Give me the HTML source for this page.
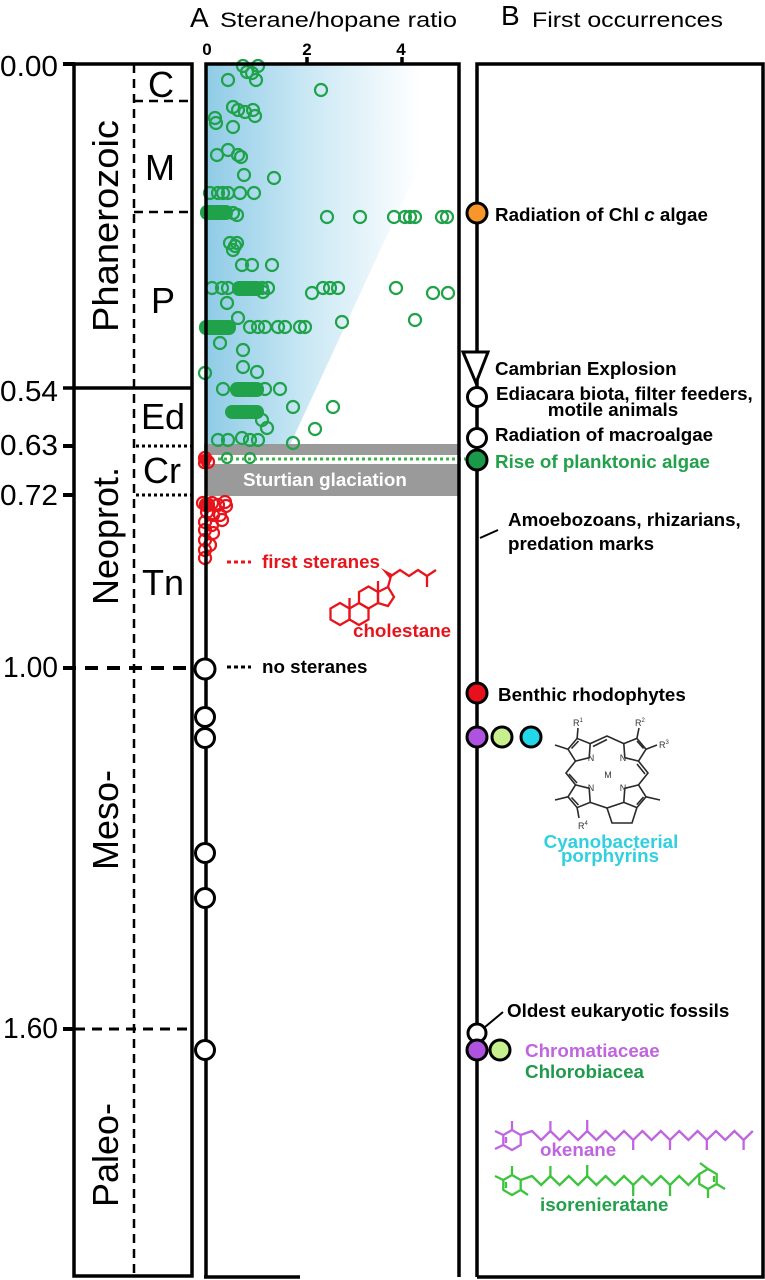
<!DOCTYPE html>
<html><head><meta charset="utf-8"><title>Sterane/hopane ratio and first occurrences</title>
<style>
html,body{margin:0;padding:0;background:#fff;}
svg{display:block;}
text{font-family:"Liberation Sans",Arial,sans-serif;}
.b{font-weight:bold;font-size:18.8px;}
</style></head>
<body>
<svg width="765" height="1280" viewBox="0 0 765 1280" xmlns="http://www.w3.org/2000/svg">
<defs>
<linearGradient id="bg" gradientUnits="userSpaceOnUse" x1="206" y1="0" x2="420" y2="0">
<stop offset="0" stop-color="#8fcbe6"/>
<stop offset="0.45" stop-color="#c8e7f4"/>
<stop offset="1" stop-color="#ffffff"/>
</linearGradient>
</defs>
<rect width="765" height="1280" fill="#fff"/>

<!-- headers -->
<text x="190" y="27" font-size="28">A</text>
<text x="220" y="27" font-size="21" textLength="237" lengthAdjust="spacingAndGlyphs">Sterane/hopane ratio</text>
<text x="501" y="25" font-size="28">B</text>
<text x="532" y="27" font-size="21" textLength="191" lengthAdjust="spacingAndGlyphs">First occurrences</text>

<!-- axis labels -->
<text x="207" y="55" font-size="17" font-weight="bold" text-anchor="middle">0</text>
<text x="307" y="55" font-size="17" font-weight="bold" text-anchor="middle">2</text>
<text x="401" y="55" font-size="17" font-weight="bold" text-anchor="middle">4</text>

<!-- time labels -->
<g font-size="29">
<text x="0" y="76" textLength="58" lengthAdjust="spacingAndGlyphs">0.00</text>
<text x="0" y="401" textLength="58" lengthAdjust="spacingAndGlyphs">0.54</text>
<text x="0" y="455" textLength="58" lengthAdjust="spacingAndGlyphs">0.63</text>
<text x="0" y="505" textLength="58" lengthAdjust="spacingAndGlyphs">0.72</text>
<text x="3" y="677" textLength="55" lengthAdjust="spacingAndGlyphs">1.00</text>
<text x="3" y="1038" textLength="55" lengthAdjust="spacingAndGlyphs">1.60</text>
</g>
<!-- ticks -->
<g stroke="#000" stroke-width="4">
<line x1="63" y1="64" x2="75" y2="64"/>
<line x1="63" y1="446" x2="75" y2="446"/>
<line x1="63" y1="495" x2="75" y2="495"/>
<line x1="63" y1="1029" x2="75" y2="1029"/>
</g>

<!-- timescale box -->
<rect x="74" y="64" width="118" height="1212" fill="none" stroke="#000" stroke-width="3.5"/>
<line x1="134" y1="64" x2="134" y2="1276" stroke="#000" stroke-width="2.5" stroke-dasharray="9,6"/>
<line x1="63" y1="388" x2="192" y2="388" stroke="#000" stroke-width="3.5"/>
<line x1="134" y1="101" x2="192" y2="101" stroke="#000" stroke-width="2.5" stroke-dasharray="9,6"/>
<line x1="134" y1="212" x2="192" y2="212" stroke="#000" stroke-width="2.5" stroke-dasharray="9,6"/>
<line x1="136" y1="446" x2="192" y2="446" stroke="#000" stroke-width="3" stroke-dasharray="3,3"/>
<line x1="136" y1="495" x2="192" y2="495" stroke="#000" stroke-width="3" stroke-dasharray="3,3"/>
<line x1="63" y1="668" x2="196" y2="668" stroke="#000" stroke-width="4" stroke-dasharray="13,9"/>
<line x1="75" y1="1029" x2="192" y2="1029" stroke="#000" stroke-width="3" stroke-dasharray="10,7"/>

<!-- era labels -->
<g font-size="36">
<text transform="translate(118,226) rotate(-90)" text-anchor="middle" textLength="212" lengthAdjust="spacingAndGlyphs">Phanerozoic</text>
<text transform="translate(118,536) rotate(-90)" text-anchor="middle">Neoprot.</text>
<text transform="translate(118,820) rotate(-90)" text-anchor="middle">Meso-</text>
<text transform="translate(118,1155) rotate(-90)" text-anchor="middle">Paleo-</text>
<text x="161" y="97" text-anchor="middle">C</text>
<text x="160" y="180" text-anchor="middle">M</text>
<text x="163" y="313" text-anchor="middle">P</text>
<text x="163" y="429" text-anchor="middle">Ed</text>
<text x="162" y="483" text-anchor="middle">Cr</text>
<text x="163" y="595" text-anchor="middle">Tn</text>
</g>

<!-- Panel A gradient -->
<polygon points="206,64 459,64 459,80 290,445 206,445" fill="url(#bg)"/>

<!-- Sturtian bars -->
<rect x="204" y="444" width="255" height="11" fill="#9a9a9a"/>
<rect x="206" y="464" width="253" height="32" fill="#9a9a9a"/>
<text x="243" y="486" class="b" fill="#fff">Sturtian glaciation</text>

<!-- green data -->
<g fill="none" stroke="#1fa24a" stroke-width="2.2">
<circle cx="243" cy="66" r="6"/><circle cx="258" cy="66" r="6"/><circle cx="247" cy="72" r="6"/><circle cx="252" cy="73" r="6"/><circle cx="256" cy="80" r="6"/><circle cx="228" cy="80" r="6"/><circle cx="321" cy="90" r="6"/>
<circle cx="233" cy="107" r="6"/><circle cx="238" cy="110" r="6"/><circle cx="245" cy="112" r="6"/><circle cx="253" cy="110" r="6"/><circle cx="255" cy="116" r="6"/>
<circle cx="215" cy="118" r="6"/><circle cx="216" cy="123" r="6"/><circle cx="233" cy="127" r="6"/>
<circle cx="217" cy="155" r="6"/><circle cx="228" cy="150" r="6"/><circle cx="238" cy="155" r="6"/><circle cx="241" cy="157" r="6"/>
<circle cx="244" cy="175" r="6"/><circle cx="274" cy="178" r="6"/>
<circle cx="210" cy="193" r="6"/><circle cx="218" cy="193" r="6"/><circle cx="223" cy="193" r="6"/><circle cx="228" cy="193" r="6"/><circle cx="240" cy="193" r="6"/><circle cx="254" cy="193" r="6"/>
<circle cx="233" cy="213" r="6"/><circle cx="237" cy="215" r="6"/>
<circle cx="327" cy="217" r="6"/><circle cx="360" cy="217" r="6"/><circle cx="394" cy="217" r="6"/><circle cx="405" cy="217" r="6"/><circle cx="410" cy="217" r="6"/><circle cx="415" cy="217" r="6"/><circle cx="442" cy="217" r="6"/><circle cx="447" cy="217" r="6"/>
<circle cx="230" cy="243" r="6"/><circle cx="237" cy="243" r="6"/><circle cx="233" cy="250" r="6"/><circle cx="235" cy="246" r="6"/>
<circle cx="242" cy="265" r="6"/><circle cx="252" cy="265" r="6"/><circle cx="272" cy="265" r="6"/>
<circle cx="212" cy="288" r="6"/><circle cx="222" cy="288" r="6"/><circle cx="228" cy="288" r="6"/><circle cx="262" cy="288" r="6"/><circle cx="268" cy="288" r="6"/><circle cx="263" cy="292" r="6"/>
<circle cx="312" cy="293" r="6"/><circle cx="323" cy="288" r="6"/><circle cx="330" cy="288" r="6"/><circle cx="338" cy="288" r="6"/>
<circle cx="396" cy="288" r="6"/><circle cx="433" cy="293" r="6"/><circle cx="448" cy="293" r="6"/>
<circle cx="227" cy="303" r="6"/><circle cx="238" cy="318" r="6"/><circle cx="342" cy="322" r="6"/><circle cx="415" cy="320" r="6"/>
<circle cx="250" cy="327" r="6"/><circle cx="258" cy="327" r="6"/><circle cx="265" cy="327" r="6"/><circle cx="278" cy="327" r="6"/><circle cx="285" cy="327" r="6"/><circle cx="300" cy="327" r="6"/><circle cx="305" cy="327" r="6"/>
<circle cx="220" cy="343" r="6"/><circle cx="243" cy="350" r="6"/>
<circle cx="205" cy="373" r="6"/><circle cx="243" cy="367" r="6"/><circle cx="257" cy="372" r="6"/>
<circle cx="223" cy="389" r="6"/><circle cx="265" cy="389" r="6"/><circle cx="280" cy="389" r="6"/>
<circle cx="293" cy="407" r="6"/><circle cx="333" cy="407" r="6"/>
<circle cx="262" cy="420" r="6"/><circle cx="267" cy="428" r="6"/><circle cx="315" cy="429" r="6"/>
<circle cx="218" cy="440" r="6"/><circle cx="228" cy="440" r="6"/><circle cx="242" cy="438" r="6"/><circle cx="250" cy="440" r="6"/><circle cx="258" cy="440" r="6"/><circle cx="293" cy="443" r="6"/>
<circle cx="227" cy="458" r="5"/><circle cx="250" cy="458" r="5"/>
</g>
<g fill="#1fa24a">
<rect x="200" y="205" width="33" height="15" rx="7"/>
<rect x="232" y="281" width="32" height="15" rx="7"/>
<rect x="199" y="320" width="37" height="15" rx="7"/>
<rect x="230" y="382" width="34" height="15" rx="7"/>
<rect x="225" y="405" width="39" height="14" rx="7"/>
</g>

<!-- green dotted line -->
<line x1="218" y1="459" x2="470" y2="459" stroke="#3cb44a" stroke-width="3" stroke-dasharray="3,3"/>

<!-- red data -->
<g fill="none" stroke="#e8141c" stroke-width="2.2">
<circle cx="205" cy="458" r="6"/><circle cx="208" cy="462" r="6"/><circle cx="204" cy="463" r="5"/>
<circle cx="203" cy="503" r="6"/><circle cx="207" cy="505" r="6"/><circle cx="212" cy="503" r="6"/><circle cx="218" cy="505" r="6"/><circle cx="225" cy="502" r="6"/><circle cx="226" cy="506" r="6"/>
<circle cx="207" cy="512" r="6"/><circle cx="213" cy="515" r="6"/><circle cx="220" cy="515" r="6"/>
<circle cx="205" cy="522" r="6"/><circle cx="212" cy="525" r="6"/><circle cx="222" cy="520" r="6"/>
<circle cx="205" cy="530" r="6"/><circle cx="213" cy="533" r="6"/>
<circle cx="205" cy="540" r="6"/><circle cx="210" cy="545" r="6"/>
<circle cx="205" cy="550" r="6"/><circle cx="205" cy="558" r="6"/>
</g>
<rect x="199" y="454" width="12" height="11" rx="5" fill="#e8141c"/>
<rect x="199" y="498" width="16" height="14" rx="6" fill="#e8141c"/>

<!-- Panel A frame -->
<g stroke="#000" stroke-width="3.5" fill="none">
<polyline points="206,1277 206,64 459,64 459,1277"/>
<line x1="204" y1="1277" x2="300" y2="1277"/>
<line x1="307" y1="64" x2="307" y2="57"/>
<line x1="402" y1="64" x2="402" y2="57"/>
</g>

<!-- first steranes / cholestane -->
<line x1="227" y1="562" x2="251" y2="562" stroke="#e8141c" stroke-width="3" stroke-dasharray="4,3"/>
<text x="262" y="568" class="b" fill="#e8141c">first steranes</text>
<g fill="none" stroke="#e8141c" stroke-width="2.3">
<polygon points="340,603 349.5,608.5 349.5,619.5 340,625 330.5,619.5 330.5,608.5"/>
<polygon points="359,603 368.5,608.5 368.5,619.5 359,625 349.5,619.5 349.5,608.5"/>
<polygon points="368.5,586.5 378,592 378,603 368.5,608.5 359,603 359,592"/>
<polygon points="378,592 388,587 394,597 388,606 378,603"/>
<line x1="349.5" y1="608.5" x2="349.5" y2="598"/>
<line x1="378" y1="592" x2="378" y2="581"/>
<polyline points="388,587 391,576 400,570 409,576 418,570 427,576 436,570"/>
<line x1="427" y1="576" x2="427" y2="587"/>
</g>
<polygon points="381,568 392,574 390,579" fill="#e8141c"/>
<text x="353" y="637" class="b" fill="#e8141c">cholestane</text>

<!-- no steranes -->
<line x1="227" y1="667" x2="251" y2="667" stroke="#000" stroke-width="3" stroke-dasharray="4,3"/>
<text x="262" y="673" class="b">no steranes</text>

<!-- white circles on A axis -->
<g fill="#fff" stroke="#000" stroke-width="3">
<circle cx="205" cy="669" r="10"/>
<circle cx="205" cy="717" r="9.5"/>
<circle cx="205" cy="738" r="9.5"/>
<circle cx="205" cy="853" r="9.5"/>
<circle cx="205" cy="898" r="9.5"/>
<circle cx="205" cy="1050" r="9.5"/>
</g>

<!-- Panel B frame -->
<polyline points="477,1277 477,64 763,64 763,1277 477,1277" fill="none" stroke="#000" stroke-width="3.5"/>

<!-- B markers -->
<g stroke="#000" stroke-width="3">
<circle cx="477" cy="213" r="10" fill="#f7962a"/>
<polygon points="463,352 488,352 476,383" fill="#fff"/>
<circle cx="477" cy="397" r="9.5" fill="#fff"/>
<circle cx="477" cy="438" r="9.5" fill="#fff"/>
<circle cx="477" cy="460" r="10" fill="#1a9a48"/>
<circle cx="477" cy="693" r="10" fill="#e8101c"/>
<circle cx="477" cy="737" r="10" fill="#b052e0"/>
<circle cx="502" cy="737" r="10" fill="#c8ef8e"/>
<circle cx="531" cy="737" r="10" fill="#22d8e8"/>
<circle cx="477" cy="1033" r="9" fill="#fff"/>
<circle cx="477" cy="1050" r="10" fill="#b052e0"/>
<circle cx="500" cy="1050" r="10" fill="#c8ef8e"/>
</g>
<line x1="480" y1="538" x2="498" y2="530" stroke="#000" stroke-width="2"/>
<line x1="485" y1="1027" x2="503" y2="1012" stroke="#000" stroke-width="2"/>

<!-- B labels -->
<text x="495" y="221" class="b">Radiation of Chl <tspan font-style="italic">c</tspan> algae</text>
<text x="495" y="375" class="b">Cambrian Explosion</text>
<text x="496" y="400" class="b">Ediacara biota, filter feeders,</text>
<text x="613" y="416" class="b" text-anchor="middle">motile animals</text>
<text x="495" y="441" class="b">Radiation of macroalgae</text>
<text x="495" y="468" class="b" fill="#22a04a">Rise of planktonic algae</text>
<text x="508" y="526" class="b">Amoebozoans, rhizarians,</text>
<text x="508" y="550" class="b">predation marks</text>
<text x="498" y="701" class="b">Benthic rhodophytes</text>
<text x="507" y="1017" class="b">Oldest eukaryotic fossils</text>
<text x="525" y="1057" class="b" fill="#c065e0">Chromatiaceae</text>
<text x="525" y="1078" class="b" fill="#1e9a4a">Chlorobiacea</text>

<!-- porphyrin -->
<g fill="none" stroke="#2a2a2a" stroke-width="1.6">
<polygon points="589.2,757.7 575.5,761.1 568,749.2 577.1,738.4 590.2,743.6"/>
<polygon points="624.8,757.7 623.8,743.6 636.9,738.4 646,749.2 638.5,761.1"/>
<polygon points="589.2,788.3 590.2,802.4 577.1,807.6 568,796.8 575.5,784.9"/>
<polygon points="624.8,788.3 638.5,784.9 646,796.8 636.9,807.6 623.8,802.4"/>
<polyline points="590.2,743.6 607,736 623.8,743.6"/>
<polyline points="575.5,761.1 566,773 575.5,784.9"/>
<polyline points="638.5,761.1 648,773 638.5,784.9"/>
<polyline points="590.2,802.4 607,808 623.8,802.4"/>
<polyline points="607,808 612,823 632,823 636.9,807.6"/>
<line x1="571.5" y1="748.5" x2="578.5" y2="741"/>
<line x1="637" y1="741" x2="643.5" y2="748.5"/>
<line x1="571.5" y1="797.5" x2="578.5" y2="805"/>
<line x1="643.5" y1="797" x2="636.8" y2="804.6"/>
<line x1="593" y1="746.5" x2="607" y2="739.5"/>
<line x1="569" y1="774" x2="577" y2="783"/>
<line x1="645" y1="774" x2="637" y2="764"/>
<line x1="568" y1="749.2" x2="555" y2="745"/>
<line x1="577.1" y1="738.4" x2="578" y2="728"/>
<line x1="636.9" y1="738.4" x2="639" y2="728"/>
<line x1="646" y1="749.2" x2="657" y2="745"/>
<line x1="568" y1="796.8" x2="555" y2="800"/>
<line x1="577.1" y1="807.6" x2="579" y2="818"/>
<line x1="646" y1="796.8" x2="660" y2="800"/>
</g>
<g fill="#333" font-size="9">
<text x="573" y="726">R<tspan font-size="6" dy="-4">1</tspan></text>
<text x="635" y="726">R<tspan font-size="6" dy="-4">2</tspan></text>
<text x="659" y="748">R<tspan font-size="6" dy="-4">3</tspan></text>
<text x="578" y="829">R<tspan font-size="6" dy="-4">4</tspan></text>
<text x="608" y="778" text-anchor="middle">M</text>
<text x="591" y="761" text-anchor="middle">N</text>
<text x="623" y="761" text-anchor="middle">N</text>
<text x="591" y="791" text-anchor="middle">N</text>
<text x="623" y="791" text-anchor="middle">N</text>
</g>
<text x="611" y="848" class="b" fill="#30d0e0" text-anchor="middle">Cyanobacterial</text>
<text x="610" y="862" class="b" fill="#30d0e0" text-anchor="middle">porphyrins</text>

<!-- okenane -->
<g fill="none" stroke="#c065e0" stroke-width="2.3">
<polygon points="512,1130 520.7,1135 520.7,1145 512,1150 503.3,1145 503.3,1135"/>
<line x1="506" y1="1137" x2="506" y2="1143"/>
<line x1="512" y1="1130" x2="512" y2="1121"/>
<line x1="503.3" y1="1135" x2="495" y2="1131"/>
<line x1="503.3" y1="1145" x2="495" y2="1149"/>
<polyline points="520.7,1135 532,1131 541.2,1140 550.4,1131 559.6,1140 568.8,1131 578,1140 587.2,1131 596.4,1140 605.6,1131 614.8,1140 624,1131 633.2,1140 642.4,1131 651.6,1140 660.8,1131 670,1140 679.2,1131 688.4,1140 697.6,1131 706.8,1140 716,1131 725.2,1140 734.4,1131 743.6,1140 752.8,1131"/>
<line x1="550.4" y1="1131" x2="550.4" y2="1121"/>
<line x1="587.2" y1="1131" x2="587.2" y2="1120"/>
<line x1="633.2" y1="1140" x2="633.2" y2="1150"/>
<line x1="670" y1="1140" x2="670" y2="1150"/>
<line x1="706.8" y1="1140" x2="706.8" y2="1150"/>
<line x1="743.6" y1="1140" x2="743.6" y2="1150"/>
</g>
<text x="540" y="1156" class="b" fill="#c065e0">okenane</text>

<!-- isorenieratane -->
<g fill="none" stroke="#3cc43c" stroke-width="2.3">
<polygon points="512,1175 520.7,1180 520.7,1190 512,1195 503.3,1190 503.3,1180"/>
<line x1="506" y1="1182" x2="506" y2="1188"/>
<line x1="512" y1="1175" x2="512" y2="1166"/>
<line x1="503.3" y1="1180" x2="495" y2="1176"/>
<line x1="520.7" y1="1190" x2="528" y2="1195"/>
<polyline points="520.7,1180 532,1176 541.2,1185 550.4,1176 559.6,1185 568.8,1176 578,1185 587.2,1176 596.4,1185 605.6,1176 614.8,1185 624,1176 633.2,1185 642.4,1176 651.6,1185 660.8,1176 670,1185 679.2,1176 688.4,1185 699.3,1174"/>
<line x1="550.4" y1="1176" x2="550.4" y2="1166"/>
<line x1="587.2" y1="1176" x2="587.2" y2="1165"/>
<line x1="633.2" y1="1185" x2="633.2" y2="1196"/>
<line x1="670" y1="1185" x2="670" y2="1196"/>
<polygon points="708,1169 716.7,1174 716.7,1184 708,1189 699.3,1184 699.3,1174"/>
<line x1="714" y1="1176" x2="714" y2="1182"/>
<line x1="708" y1="1169" x2="700" y2="1163"/>
<line x1="716.7" y1="1184" x2="725" y2="1189"/>
<line x1="708" y1="1189" x2="708" y2="1198"/>
</g>
<text x="540" y="1211" class="b" fill="#22a04a">isorenieratane</text>
</svg>
</body></html>
